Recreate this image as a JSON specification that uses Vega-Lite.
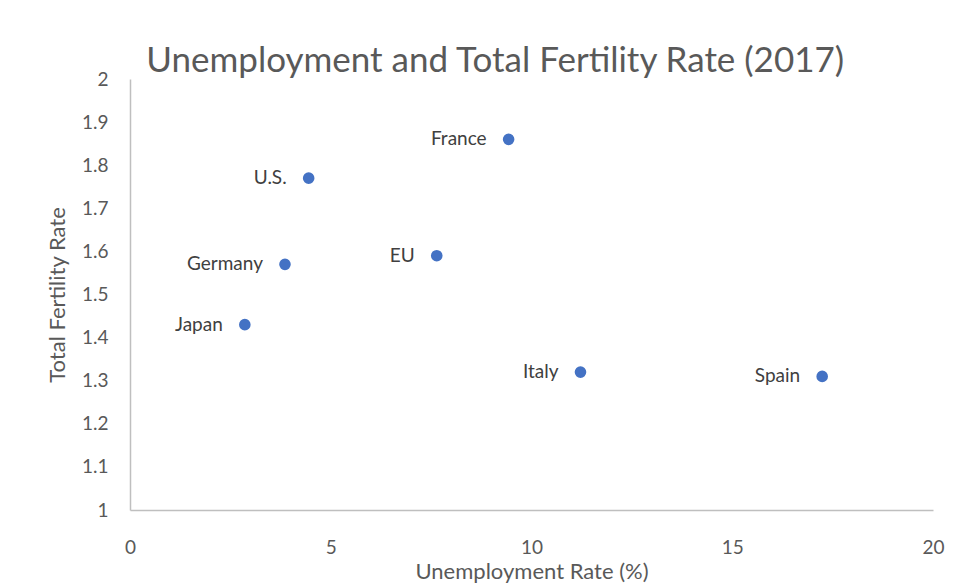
{
  "$schema": "https://vega.github.io/schema/vega-lite/v6.json",
  "autosize": "none",
  "width": 803,
  "height": 431,
  "padding": {"left": 130, "top": 79, "right": 24, "bottom": 73},
  "background": "white",
  "config": {
    "font": "Lato",
    "view": {"stroke": null}
  },
  "title": {
    "text": "Unemployment and Total Fertility Rate (2017)",
    "fontSize": 35,
    "fontWeight": "normal",
    "color": "#595959",
    "anchor": "middle",
    "frame": "bounds",
    "offset": -9
  },
  "data": {
    "values": [
      {"country": "France", "unemployment": 9.43, "tfr": 1.86},
      {"country": "U.S.", "unemployment": 4.45, "tfr": 1.77},
      {"country": "EU", "unemployment": 7.64, "tfr": 1.59},
      {"country": "Germany", "unemployment": 3.86, "tfr": 1.57},
      {"country": "Japan", "unemployment": 2.86, "tfr": 1.43},
      {"country": "Italy", "unemployment": 11.22, "tfr": 1.32},
      {"country": "Spain", "unemployment": 17.24, "tfr": 1.31}
    ]
  },
  "encoding": {
    "x": {
      "field": "unemployment",
      "type": "quantitative",
      "scale": {"domain": [0, 20], "nice": false, "zero": false},
      "axis": {
        "title": "Unemployment Rate (%)",
        "values": [0, 5, 10, 15, 20],
        "grid": false,
        "ticks": false,
        "labelFlush": false,
        "domainColor": "#bfbfbf",
        "domainWidth": 1.5,
        "labelFontSize": 19,
        "labelColor": "#595959",
        "labelPadding": 28,
        "titleFontSize": 22,
        "titleFontWeight": "normal",
        "titleColor": "#595959",
        "titlePadding": 4
      }
    },
    "y": {
      "field": "tfr",
      "type": "quantitative",
      "scale": {"domain": [1, 2], "nice": false, "zero": false},
      "axis": {
        "title": "Total Fertility Rate",
        "values": [1, 1.1, 1.2, 1.3, 1.4, 1.5, 1.6, 1.7, 1.8, 1.9, 2],
        "format": "~g",
        "grid": false,
        "ticks": false,
        "domainColor": "#bfbfbf",
        "domainWidth": 1.5,
        "labelFontSize": 19,
        "labelColor": "#595959",
        "labelPadding": 22,
        "titleFontSize": 22,
        "titleFontWeight": "normal",
        "titleColor": "#595959",
        "titlePadding": 12
      }
    }
  },
  "layer": [
    {
      "mark": {"type": "point", "filled": true, "size": 135, "color": "#4472C4", "opacity": 1}
    },
    {
      "mark": {"type": "text", "align": "right", "baseline": "middle", "dx": -22, "fontSize": 19, "color": "#404040"},
      "encoding": {"text": {"field": "country", "type": "nominal"}}
    }
  ]
}
